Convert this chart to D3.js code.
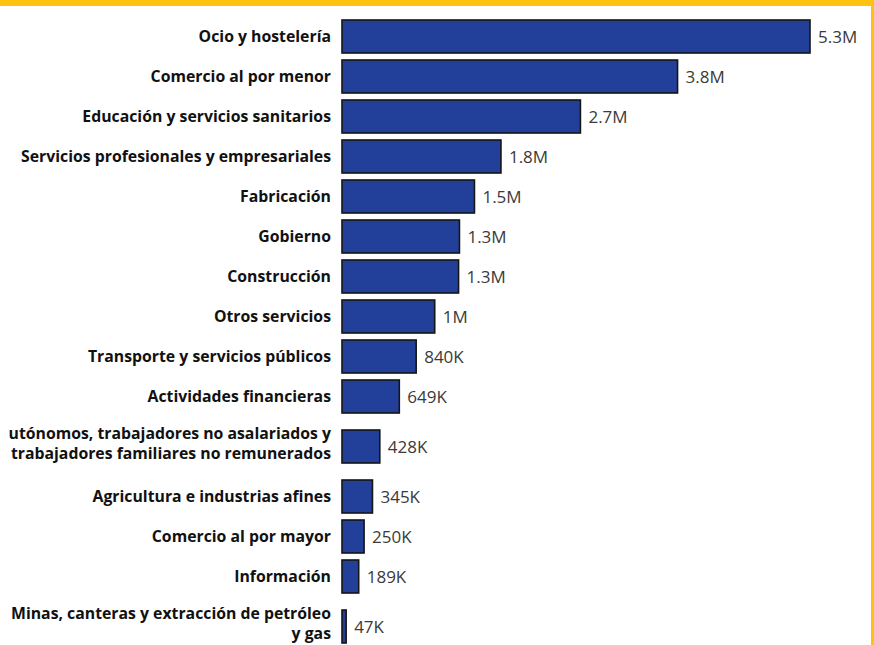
<!DOCTYPE html>
<html>
<head>
<meta charset="utf-8">
<script src="https://cdn.jsdelivr.net/npm/d3@7"></script>
<style>
  html, body { margin: 0; padding: 0; background: #fff; }
  svg { display: block; }
</style>
</head>
<body>
<script>
// Sectores (las etiquetas de dos líneas van como arrays)
const categories = [
  ["Ocio y hostelería"],
  ["Comercio al por menor"],
  ["Educación y servicios sanitarios"],
  ["Servicios profesionales y empresariales"],
  ["Fabricación"],
  ["Gobierno"],
  ["Construcción"],
  ["Otros servicios"],
  ["Transporte y servicios públicos"],
  ["Actividades financieras"],
  ["utónomos, trabajadores no asalariados y", "trabajadores familiares no remunerados"],
  ["Agricultura e industrias afines"],
  ["Comercio al por mayor"],
  ["Información"],
  ["Minas, canteras y extracción de petróleo", "y gas"]
];
const values = [5300000, 3800000, 2700000, 1800000, 1500000, 1330000, 1320000, 1050000,
                840000, 649000, 428000, 345000, 250000, 189000, 47000];
const valueLabels = ["5.3M", "3.8M", "2.7M", "1.8M", "1.5M", "1.3M", "1.3M", "1M",
                     "840K", "649K", "428K", "345K", "250K", "189K", "47K"];

const W = 874, H = 645;
const svg = d3.select("body").append("svg")
  .attr("width", W).attr("height", H);

svg.append("rect").attr("width", W).attr("height", H).attr("fill", "#fff");

// filas: una unidad por línea simple, 1.5 para etiquetas de dos líneas
const units = categories.map(c => c.length > 1 ? 1.5 : 1);
const offsets = [];
let acc = 0;
units.forEach(u => { offsets.push(acc + u / 2); acc += u; });
const yRow = d3.scaleLinear().domain([0, acc]).range([16.5, 16.5 + acc * 40]);

const x = d3.scaleLinear().domain([0, 5300000]).range([342, 810]);
const barH = 33;

const rows = svg.append("g").selectAll("g")
  .data(values.map((v, i) => ({ v, i })))
  .join("g")
  .attr("transform", d => `translate(0,${yRow(offsets[d.i])})`);

rows.append("rect")
  .attr("x", x(0))
  .attr("y", -barH / 2)
  .attr("width", d => x(d.v) - x(0))
  .attr("height", barH)
  .attr("fill", "#22409a")
  .attr("stroke", "#151515")
  .attr("stroke-width", 1.6);

rows.append("text")
  .attr("x", d => x(d.v) + 8)
  .attr("dy", "0.36em")
  .attr("font-family", "'Open Sans', sans-serif")
  .attr("font-size", 17)
  .attr("fill", "#3a3a3a")
  .text(d => valueLabels[d.i]);

const lab = rows.append("text")
  .attr("x", 331)
  .attr("text-anchor", "end")
  .attr("font-family", "'Open Sans', sans-serif")
  .attr("font-weight", "bold")
  .attr("font-size", 15.8)
  .attr("fill", "#111");

// las etiquetas de dos líneas quedan algo por encima del centro de la barra
lab.selectAll("tspan")
  .data(d => categories[d.i].map((t, k, arr) => ({ t, k, n: arr.length })))
  .join("tspan")
  .attr("x", 331)
  .attr("y", d => d.n > 1 ? (d.k - 0.5) * 20 - 3 : 0)
  .attr("dy", "0.36em")
  .text(d => d.t);

// marco amarillo
svg.append("rect").attr("x", 0).attr("y", 0).attr("width", W).attr("height", 6).attr("fill", "#ffc20e");
svg.append("rect").attr("x", 871).attr("y", 0).attr("width", 3).attr("height", H).attr("fill", "#ffc20e");
</script>
</body>
</html>
